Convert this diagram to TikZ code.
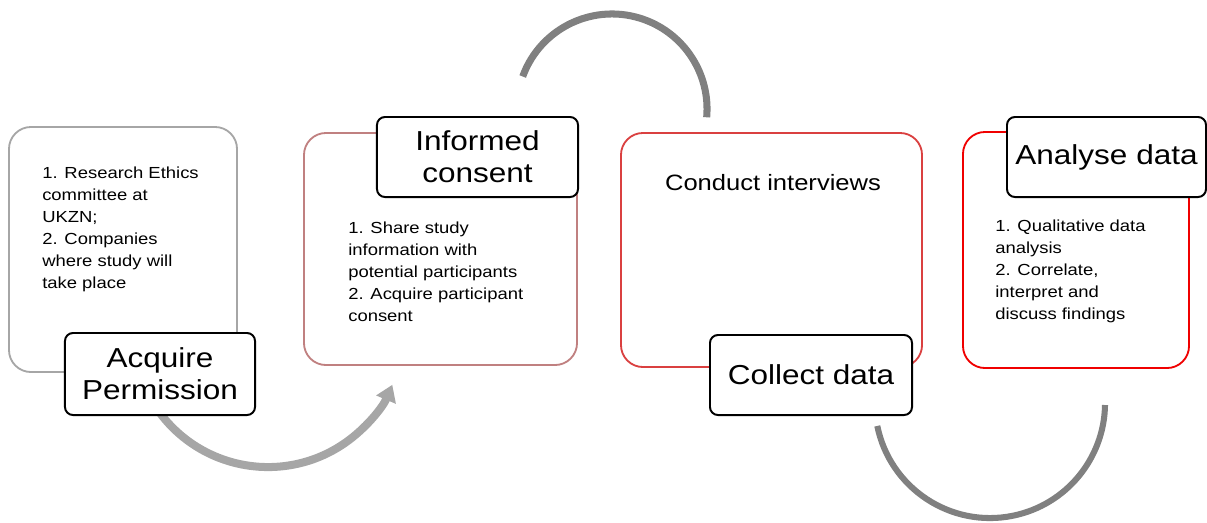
\documentclass[tikz,border=0pt]{standalone}
\usepackage{fontspec}
\setmainfont[FakeStretch=1.15]{Liberation Sans}
\usepackage{tikz}
\usetikzlibrary{positioning}
\usetikzlibrary{calc}
\usetikzlibrary{arrows.meta}
\definecolor{boxgray}{RGB}{166,166,166}
\definecolor{boxrose}{RGB}{192,128,128}
\definecolor{boxred}{RGB}{218,64,64}
\definecolor{boxbright}{RGB}{240,0,0}
\definecolor{arcgray}{RGB}{128,128,128}
\tikzset{
    stage/.style = {rectangle, rounded corners=0.55cm, draw, line width=1.3pt, fill=white, inner sep=0pt},
    heading/.style = {rectangle, rounded corners=0.2cm, draw=black, line width=1.4pt, fill=white,
        align=center, inner sep=0pt, font=\fontsize{19.5}{22.8}\selectfont},
    notes/.style = {align=left, inner sep=0pt, anchor=north west, font=\fontsize{11.4}{15.6}\selectfont},
    swirl/.style = {draw=arcgray, line width=5pt}}

\begin{document}
\begin{tikzpicture}[x=0.025cm, y=-0.025cm]
    \useasboundingbox (0,0) rectangle (1207,522);
    \coordinate (c1) at (268,332);
    \coordinate (c2) at (612,109);
    \coordinate (c3) at (990,403);
    \coordinate (s1) at ($(c1)+(217:3.375cm)$);
    \coordinate (s2) at ($(c2)+(160:2.375cm)$);
    \coordinate (s3) at ($(c3)+(191.5:2.875cm)$);
    \draw[swirl, draw=boxgray, line width=5.7pt, -{Triangle[width=14.5pt,length=11.5pt]}]
        (s1) arc[start angle=217, end angle=337, radius=3.375cm];
    \draw[swirl] (s2) arc[start angle=160, end angle=-5, radius=2.375cm];
    \draw[swirl, line width=4.3pt] (s3) arc[start angle=191.5, end angle=359, radius=2.875cm];

    \node (perm) [stage, draw=boxgray, minimum width=5.7cm, minimum height=6.125cm] at (123,249.5) {};
    \node (consent) [stage, draw=boxrose, minimum width=6.825cm, minimum height=5.8cm] at (440.5,249) {};
    \node (collect) [stage, draw=boxred, minimum width=7.525cm, minimum height=5.85cm] at (771.5,250) {};
    \node (analyse) [stage, draw=boxbright, minimum width=5.65cm, minimum height=5.9cm] at (1076,250) {};

    \node (permT) [heading, minimum width=4.75cm, minimum height=2.05cm] at (160,374) {Acquire\\Permission};
    \node (consentT) [heading, minimum width=5.025cm, minimum height=2cm] at (477.5,157) {Informed\\consent};
    \node (collectT) [heading, minimum width=5.05cm, minimum height=2cm] at (811,375) {Collect data};
    \node (analyseT) [heading, minimum width=4.975cm, minimum height=2cm] at (1106.5,157) {Analyse data};

    \node (permN) [notes] at (42,167) {1. Research Ethics\\committee at\\UKZN;\\2. Companies\\where study will\\take place};
    \node (consentN) [notes] at (348,222) {1. Share study\\information with\\potential participants\\2. Acquire participant\\consent};
    \node (collectN) [anchor=base, inner sep=0pt, font=\fontsize{15.8}{19}\selectfont] at (773,190) {Conduct interviews};
    \node (analyseN) [notes] at (995,220) {1. Qualitative data\\analysis\\2. Correlate,\\interpret and\\discuss findings};
\end{tikzpicture}
\end{document}
